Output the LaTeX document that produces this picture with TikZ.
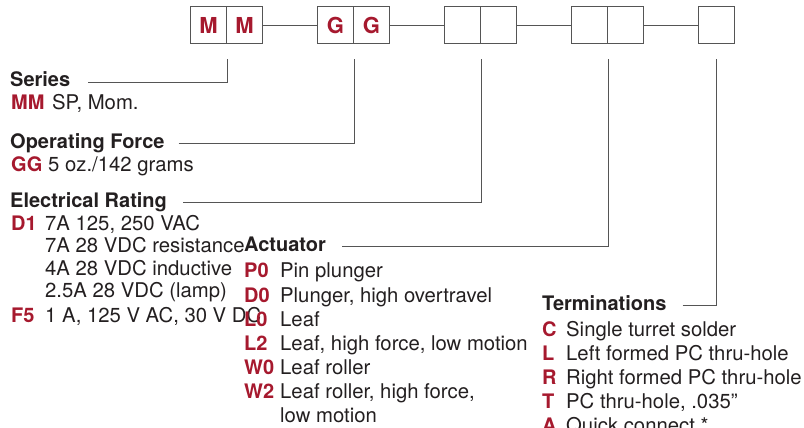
\documentclass[tikz,border=0pt]{standalone}
\usepackage{fontspec}
\setmainfont{TeX Gyre Heros}
\definecolor{codered}{RGB}{166,25,46}
\definecolor{ink}{RGB}{35,31,32}
\definecolor{rulegray}{RGB}{85,85,85}
\usetikzlibrary{calc}

\begin{document}
\begin{tikzpicture}[x=1pt,y=-1pt,
  cell/.style={draw=rulegray,line width=1pt,minimum width=36pt,minimum height=37pt,inner sep=0pt,text=codered,font=\fontsize{22.0}{26.4}\selectfont \bfseries},
  head/.style={anchor=base west,inner sep=0pt,text=ink,font=\fontsize{20.0}{24.0}\selectfont \bfseries},
  code/.style={anchor=base west,inner sep=0pt,text=codered,font=\fontsize{20.0}{24.0}\selectfont \bfseries},
  desc/.style={anchor=base west,inner sep=0pt,text=ink,font=\fontsize{20.3}{24.4}\selectfont},
  lead/.style={draw=rulegray,line width=1pt}]
\path[use as bounding box] (0,0) rectangle (804.0,428.0);
% part number boxes
\node[cell] (m1) at (208.5,25.5) {M};
\node[cell] (m2) at (244.5,25.5) {M};
\node[cell] (g1) at (335.5,25.5) {G};
\node[cell] (g2) at (371.5,25.5) {G};
\node[cell] (e1) at (462.5,25.5) {};
\node[cell] (e2) at (498.5,25.5) {};
\node[cell] (a1) at (589.5,25.5) {};
\node[cell] (a2) at (625.5,25.5) {};
\node[cell] (t1) at (716.5,25.5) {};
\draw[lead] (m2.east) -- (g1.west);
\draw[lead] (g2.east) -- (e1.west);
\draw[lead] (e2.east) -- (a1.west);
\draw[lead] (a2.east) -- (t1.west);
% series
\node[head] (series) at (10,87) {Series};
\node[code] (mm) at (11,110) {MM};
\node[desc] (mmd) at (52,110) {SP, Mom.};
% operating force
\node[head] (force) at (10,148) {Operating Force};
\node[code] (gg) at (11,171) {GG};
\node[desc] (ggd) at (48,171) {5 oz./142 grams};
% electrical rating
\node[head] (rating) at (10,207) {Electrical Rating};
\node[code] (d1) at (11,230) {D1};
\node[desc] (d1a) at (45,230) {7A 125, 250 VAC};
\node[desc] (d1b) at (45,252.5) {7A 28 VDC resistance};
\node[desc] (d1c) at (45,275) {4A 28 VDC inductive};
\node[desc] (d1d) at (45,297) {2.5A 28 VDC (lamp)};
\node[code] (f5) at (11,322) {F5};
\node[desc] (f5d) at (45,322) {1 A, 125 V AC, 30 V DC};
% actuator
\node[head] (actuator) at (244,251) {Actuator};
\node[code] (p0) at (244,277) {P0};
\node[desc] (p0d) at (280,277) {Pin plunger};
\node[code] (d0) at (244,302) {D0};
\node[desc] (d0d) at (280,302) {Plunger, high overtravel};
\node[code] (l0) at (244,326) {L0};
\node[desc] (l0d) at (280,326) {Leaf};
\node[code] (l2) at (244,350) {L2};
\node[desc] (l2d) at (280,350) {Leaf, high force, low motion};
\node[code] (w0) at (244,374) {W0};
\node[desc] (w0d) at (280,374) {Leaf roller};
\node[code] (w2) at (244,398) {W2};
\node[desc] (w2d) at (280,398) {Leaf roller, high force,};
\node[desc] (w2e) at (280,422) {low motion};
% terminations
\node[head] (term) at (542,310) {Terminations};
\node[code] (tc) at (542,336) {C};
\node[desc] (tcd) at (566,336) {Single turret solder};
\node[code] (tl) at (542,360) {L};
\node[desc] (tld) at (566,360) {Left formed PC thru-hole};
\node[code] (tr) at (542,384) {R};
\node[desc] (trd) at (566,384) {Right formed PC thru-hole};
\node[code] (tt) at (542,408) {T};
\node[desc] (ttd) at (566,408) {PC thru-hole, .035”};
\node[code] (ta) at (542,432) {A};
\node[desc] (tad) at (566,432) {Quick connect *};
% leader lines
\draw[lead] ([xshift=18pt,yshift=2pt]series.mid east) -| ([yshift=-15pt]m1.south east);
\draw[lead] ([xshift=14pt,yshift=2pt]force.mid east) -| ([yshift=-15pt]g1.south east);
\draw[lead] ([xshift=16pt,yshift=2pt]rating.mid east) -| ([yshift=-15pt]e1.south east);
\draw[lead] ([xshift=16pt,yshift=2pt]actuator.mid east) -| ([yshift=-15pt]a1.south east);
\draw[lead] ([xshift=16pt,yshift=2pt]term.mid east) -| ([yshift=-15pt]t1.south);
\end{tikzpicture}
\end{document}
